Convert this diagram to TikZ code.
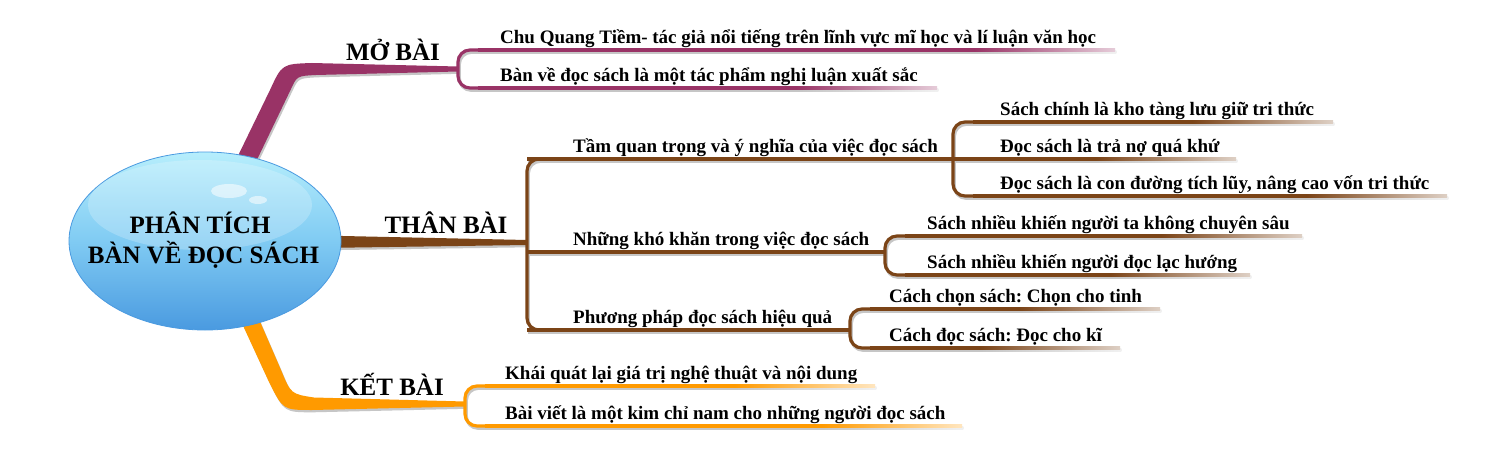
\documentclass[tikz,border=0pt]{standalone}
\usepackage{fontspec}
\setmainfont{Liberation Serif}
\frenchspacing
\usetikzlibrary{shapes.geometric}
\definecolor{mo}{HTML}{993366}
\definecolor{th}{HTML}{7B4417}
\definecolor{kt}{HTML}{FF9A00}
\definecolor{shd}{HTML}{C6C6C6}
\definecolor{skyA}{HTML}{B6EEFC}
\definecolor{skyB}{HTML}{80CBF3}
\definecolor{skyC}{HTML}{4A9AE0}
\newcommand{\leaffont}{\fontsize{19}{22}\selectfont\bfseries}
\newcommand{\bigfont}{\fontsize{25}{30}\selectfont\bfseries}
% leaf underline: colour, x start, y, x end (fades out towards the end)
\newcommand{\lf}[4]{%
  \draw[#1,ln] (#2,#3) -- (#4-140,#3);
  \shade[left color=#1,right color=#1!25!white] (#4-140.5,#3-1.6) rectangle (#4,#3+1.6);}
\newcommand{\geom}[3]{%
  % MO BAI branch
  \fill[#1] (235,162) -- (270,90) .. controls (282,64) .. (312,63) -- (458,66.5)
     -- (458,71.5) -- (316,75) .. controls (297,76) .. (291,89) -- (254,166) -- cycle;
  % THAN BAI branch
  \fill[#2] (320,235.5) -- (527,240) -- (527,245) -- (320,248) -- cycle;
  % KET BAI branch
  \fill[#3] (252,303) -- (281,370) .. controls (291,394) .. (314,397.5) -- (465,401.5)
     -- (465,406.5) -- (312,410) .. controls (283,410) .. (269,382) -- (234,306) -- cycle;
  % brackets
  \draw[#1,ln,rounded corners=12pt] (484,50) -- (458,50) -- (458,88) -- (484,88);
  \draw[#2,ln,rounded corners=12pt] (560,159) -- (527,159) -- (527,330) -- (560,330);
  \draw[#2,ln] (527,159) -- (953,159);
  \draw[#2,ln] (527,252) -- (885,252);
  \draw[#2,ln] (527,330) -- (850,330);
  \draw[#2,ln,rounded corners=12pt] (979,122) -- (953,122) -- (953,196) -- (979,196);
  \draw[#2,ln,rounded corners=12pt] (911,236) -- (885,236) -- (885,275) -- (911,275);
  \draw[#2,ln,rounded corners=12pt] (876,309) -- (850,309) -- (850,348) -- (876,348);
  \draw[#3,ln,rounded corners=12pt] (491,386) -- (465,386) -- (465,426) -- (491,426);
  % leaf underlines
  \lf{#1}{478}{50}{1115}
  \lf{#1}{478}{88}{937}
  \lf{#2}{973}{122}{1333}
  \lf{#2}{953}{159}{1236}
  \lf{#2}{973}{196}{1447}
  \lf{#2}{905}{236}{1302}
  \lf{#2}{905}{275}{1250}
  \lf{#2}{870}{309}{1160}
  \lf{#2}{870}{348}{1120}
  \lf{#3}{485}{386}{875}
  \lf{#3}{485}{426}{962}
}
\begin{document}
\begin{tikzpicture}[x=1pt,y=-1pt,
  leaf/.style={anchor=base west, inner sep=0pt, font=\leaffont},
  big/.style={anchor=base, inner sep=0pt, font=\bigfont},
  ln/.style={line width=3.2pt},
  rootshape/.style={ellipse, minimum width=272pt, minimum height=178pt, inner sep=0pt,
     top color=skyA, bottom color=skyC, middle color=skyB, draw=skyC, line width=0.8pt}]
\useasboundingbox (0,0) rectangle (1508,452);
\fill[white] (0,0) rectangle (1508,452);

% shadows, then coloured lines
\begin{scope}[shift={(1.3,2.3)}]
  \geom{shd}{shd}{shd}
\end{scope}
\geom{mo}{th}{kt}

% central topic
\node[rootshape] (root) at (205,241) {};
\fill[white, opacity=0.22] (200,205) ellipse (112 and 45);
\fill[white, opacity=0.55] (229,191) ellipse (18 and 7);
\fill[white, opacity=0.55] (258,200) ellipse (9 and 4);
\node[big] (r1) at (200,233) {PHÂN TÍCH};
\node[big] (r2) at (203.5,263) {BÀN VỀ ĐỌC SÁCH};

% main branch labels
\node[big] (lmo) at (393,60) {MỞ BÀI};
\node[big] (lth) at (446,233) {THÂN BÀI};
\node[big] (lkt) at (392,395) {KẾT BÀI};

% leaves
\node[leaf] (m1) at (500,43.5) {Chu Quang Tiềm- tác giả nổi tiếng trên lĩnh vực mĩ học và lí luận văn học};
\node[leaf] (m2) at (500,81.5) {Bàn về đọc sách là một tác phẩm nghị luận xuất sắc};
\node[leaf] (t1) at (573,152.5) {Tầm quan trọng và ý nghĩa của việc đọc sách};
\node[leaf] (t11) at (1000,115.5) {Sách chính là kho tàng lưu giữ tri thức};
\node[leaf] (t12) at (1000,152.5) {Đọc sách là trả nợ quá khứ};
\node[leaf] (t13) at (1000,189.5) {Đọc sách là con đường tích lũy, nâng cao vốn tri thức};
\node[leaf] (t2) at (573,245.5) {Những khó khăn trong việc đọc sách};
\node[leaf] (t21) at (927,229.5) {Sách nhiều khiến người ta không chuyên sâu};
\node[leaf] (t22) at (927,268.5) {Sách nhiều khiến người đọc lạc hướng};
\node[leaf] (t3) at (573,323.5) {Phương pháp đọc sách hiệu quả};
\node[leaf] (t31) at (889,302.5) {Cách chọn sách: Chọn cho tinh};
\node[leaf] (t32) at (889,341.5) {Cách đọc sách: Đọc cho kĩ};
\node[leaf] (k1) at (505,379.5) {Khái quát lại giá trị nghệ thuật và nội dung};
\node[leaf] (k2) at (505,419.5) {Bài viết là một kim chỉ nam cho những người đọc sách};
\end{tikzpicture}
\end{document}
